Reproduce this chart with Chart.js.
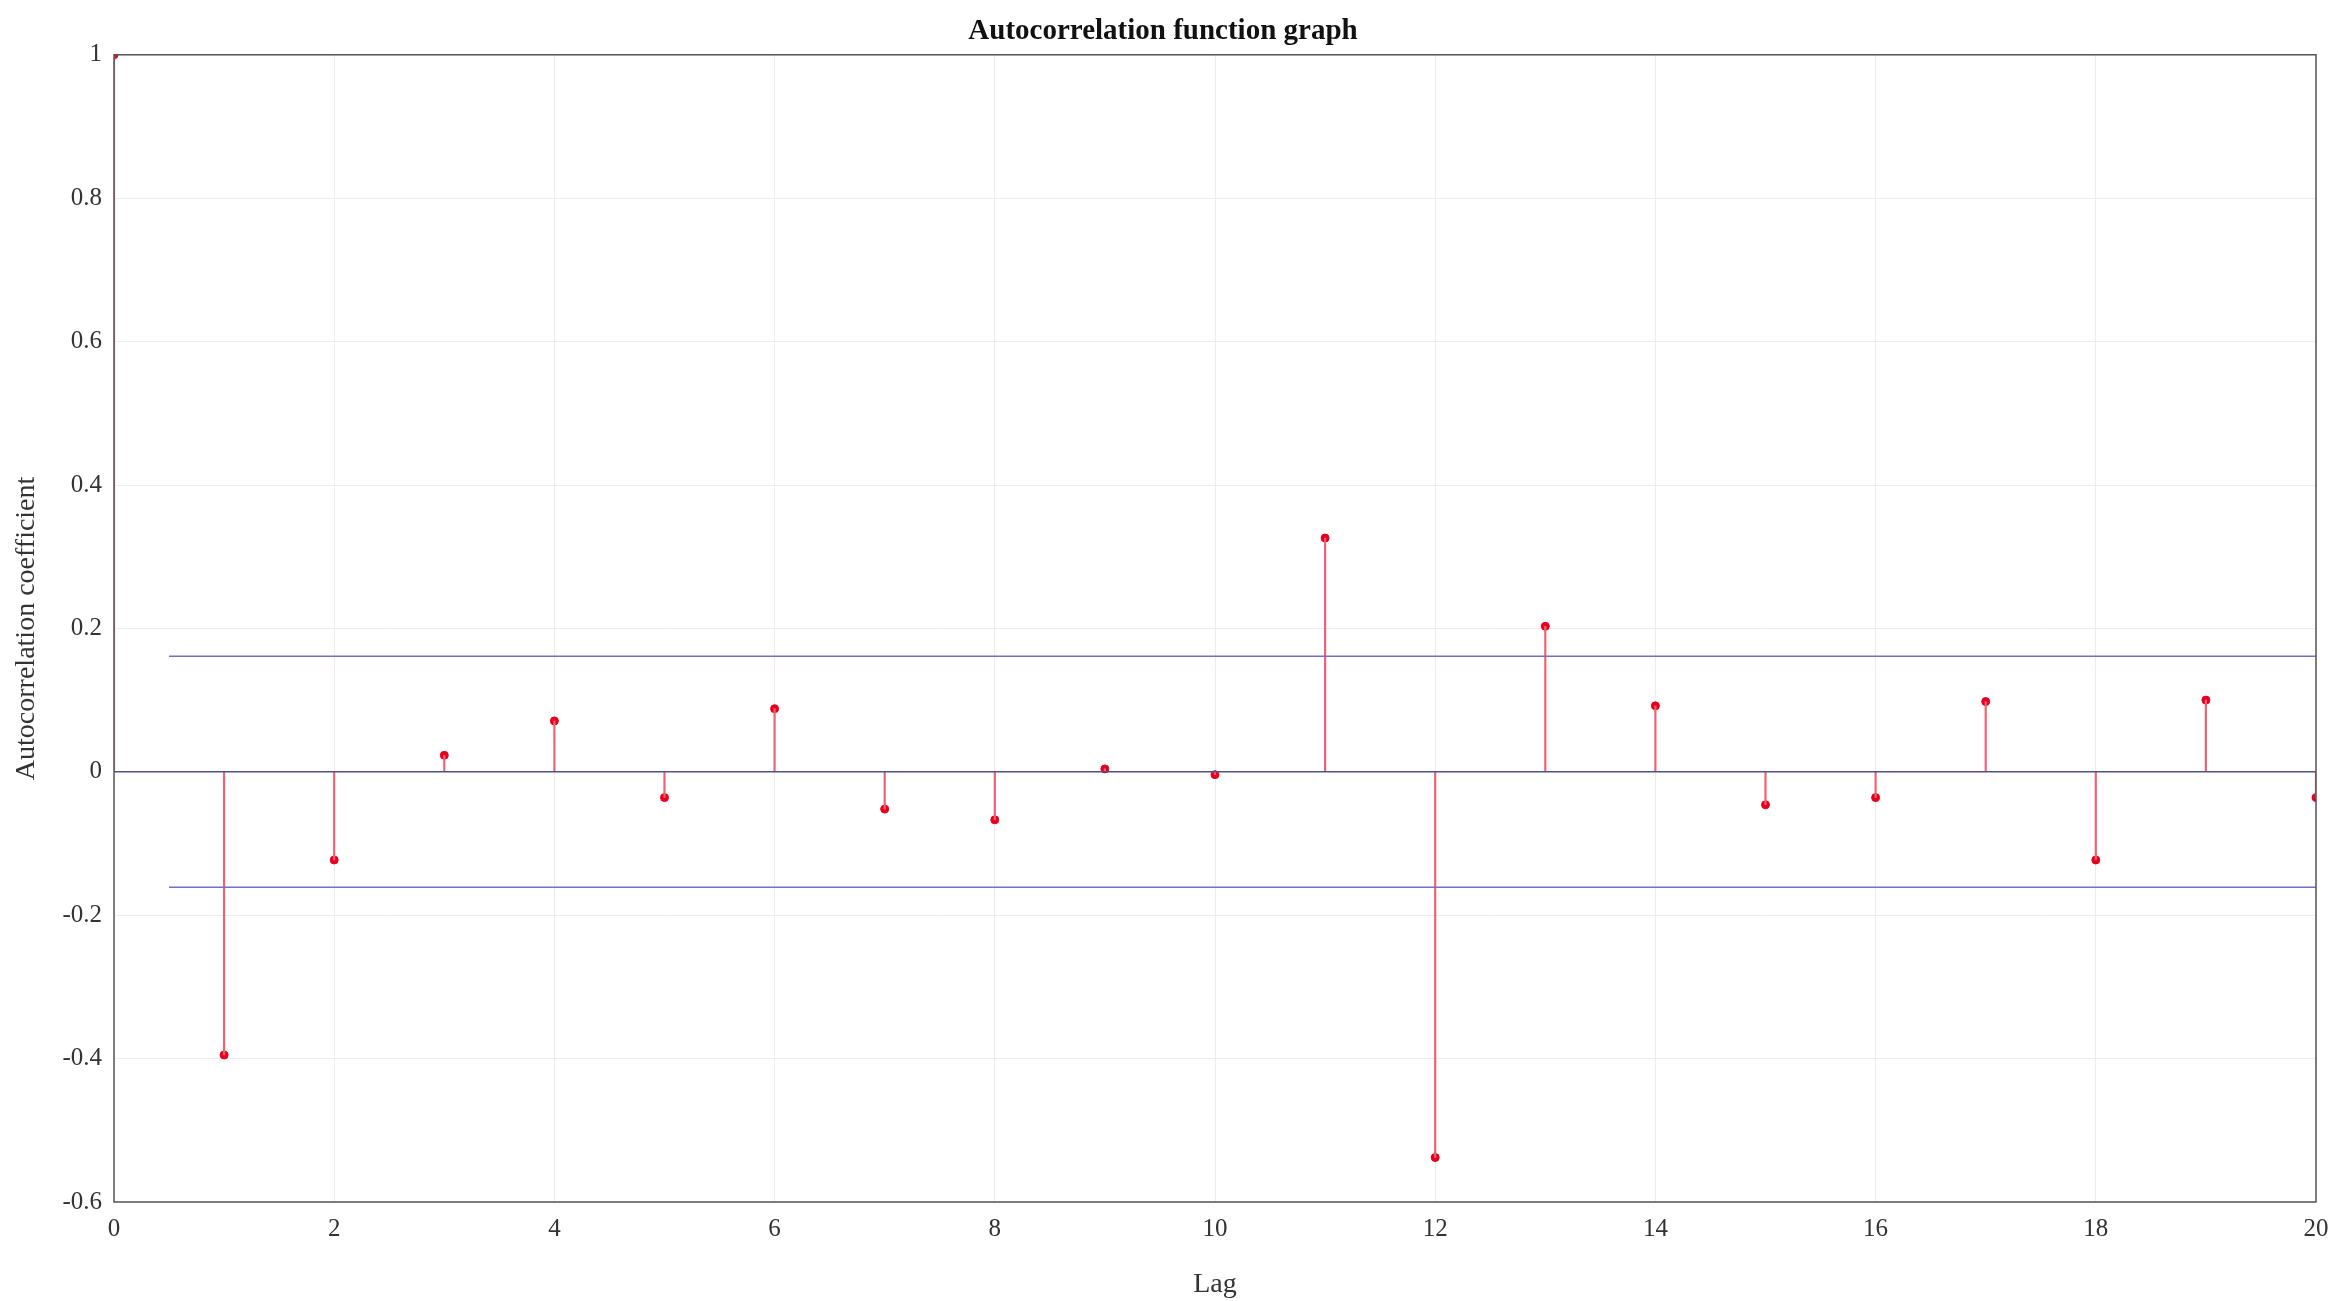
<!DOCTYPE html>
<html>
<head>
<meta charset="utf-8">
<script src="https://cdn.jsdelivr.net/npm/chart.js@4.4.1/dist/chart.umd.min.js"></script>
<style>
  html, body { margin: 0; padding: 0; background: #fff; }
  #wrap { width: 2348px; height: 1301px; }
</style>
</head>
<body>
<div id="wrap"><canvas id="acf"></canvas></div>
<script>
// Lags and autocorrelation coefficients
const lags = [0, 1, 2, 3, 4, 5, 6, 7, 8, 9, 10, 11, 12, 13, 14, 15, 16, 17, 18, 19, 20];
const acfValues = [1, -0.395, -0.123, 0.023, 0.071, -0.036, 0.088, -0.052, -0.067, 0.004, -0.004,
                   0.326, -0.538, 0.203, 0.092, -0.046, -0.036, 0.098, -0.123, 0.1, -0.036];
const confBound = 0.161;
const boundRange = [0.5, 20];
const xTicks = [0, 2, 4, 6, 8, 10, 12, 14, 16, 18, 20];

const points = lags.map((l, i) => ({ x: l, y: acfValues[i] }));
const serif = 'Liberation Serif, Times New Roman, serif';

// Draw the axes box like MATLAB's "box on"
const boxPlugin = {
    id: 'box',
    afterDraw(chart) {
        const a = chart.chartArea;
        const ctx = chart.ctx;
        ctx.save();
        ctx.strokeStyle = '#555';
        ctx.lineWidth = 1.5;
        ctx.strokeRect(a.left, a.top, a.right - a.left, a.bottom - a.top);
        ctx.restore();
    }
};

new Chart(document.getElementById('acf'), {
    type: 'bar',
    data: {
        datasets: [
            {
                type: 'line',
                data: [{ x: boundRange[0], y: confBound }, { x: boundRange[1], y: confBound }],
                borderColor: '#7070c8', borderWidth: 1.5, pointRadius: 0
            },
            {
                type: 'line',
                data: [{ x: boundRange[0], y: -confBound }, { x: boundRange[1], y: -confBound }],
                borderColor: '#7070c8', borderWidth: 1.5, pointRadius: 0
            },
            {
                type: 'line',
                data: [{ x: 0, y: 0 }, { x: 20, y: 0 }],
                borderColor: '#50508a', borderWidth: 1.5, pointRadius: 0
            },
            {
                // stems
                type: 'bar',
                data: points,
                backgroundColor: '#f06070',
                barThickness: 1.5
            },
            {
                type: 'scatter',
                data: points,
                backgroundColor: '#e8001c',
                borderColor: '#e8001c',
                pointRadius: 4
            }
        ]
    },
    options: {
        responsive: true,
        maintainAspectRatio: false,
        animation: false,
        layout: { padding: { top: 0, right: 32, left: 10, bottom: 0 } },
        plugins: {
            legend: { display: false },
            tooltip: { enabled: false },
            title: {
                display: true,
                text: 'Autocorrelation function graph',
                color: '#111',
                font: { family: serif, size: 29, weight: 'bold' },
                padding: { top: 14, bottom: 6 }
            }
        },
        scales: {
            x: {
                type: 'linear',
                min: 0, max: 20,
                offset: false,
                afterBuildTicks: axis => { axis.ticks = xTicks.map(v => ({ value: v })); },
                grid: { color: '#ececec', drawTicks: false, offset: false },
                border: { display: false },
                ticks: { color: '#333', font: { family: serif, size: 25 }, padding: 12 },
                title: { display: true, text: 'Lag', color: '#333', font: { family: serif, size: 28 }, padding: { top: -12, bottom: 0 } },
                afterFit: axis => { axis.height = 99; }
            },
            y: {
                min: -0.6, max: 1,
                grid: { color: '#ececec', drawTicks: false },
                border: { display: false },
                ticks: { stepSize: 0.2, color: '#333', font: { family: serif, size: 25 }, padding: 12,
                         callback: v => Math.abs(v) < 1e-9 ? '0' : +v.toFixed(1) },
                title: { display: true, text: 'Autocorrelation coefficient', color: '#333', font: { family: serif, size: 28 }, padding: 0 },
                afterFit: axis => { axis.width = 104; }
            }
        }
    },
    plugins: [boxPlugin]
});
</script>
</body>
</html>
